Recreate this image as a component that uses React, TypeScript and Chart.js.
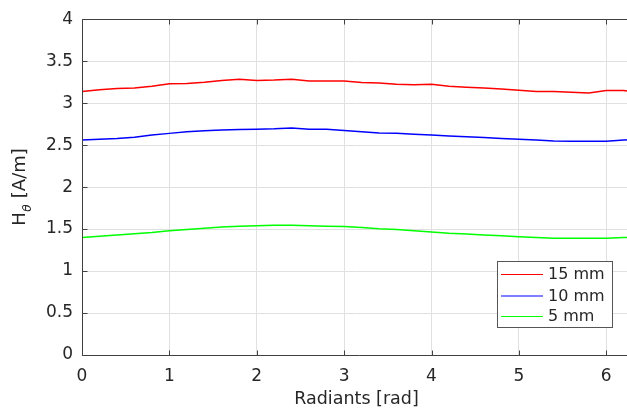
import React, { useEffect, useRef } from "react";
import { Chart, registerables } from "chart.js";

Chart.register(...registerables);

const radians = [0, 0.2, 0.4, 0.6, 0.8, 1.0, 1.2, 1.4, 1.6, 1.8, 2.0, 2.2, 2.4, 2.6, 2.8, 3.0, 3.2, 3.4, 3.6, 3.8, 4.0, 4.2, 4.4, 4.6, 4.8, 5.0, 5.2, 5.4, 5.6, 5.8, 6.0, 6.2, 6.283];
const h15 = [3.14, 3.16, 3.175, 3.18, 3.2, 3.23, 3.235, 3.25, 3.27, 3.285, 3.27, 3.275, 3.285, 3.265, 3.265, 3.265, 3.245, 3.24, 3.225, 3.22, 3.225, 3.2, 3.19, 3.18, 3.17, 3.155, 3.14, 3.14, 3.13, 3.12, 3.15, 3.15, 3.14];
const h10 = [2.56, 2.57, 2.58, 2.595, 2.62, 2.64, 2.66, 2.67, 2.68, 2.685, 2.69, 2.695, 2.705, 2.69, 2.69, 2.675, 2.66, 2.645, 2.64, 2.63, 2.62, 2.61, 2.6, 2.59, 2.58, 2.57, 2.56, 2.55, 2.545, 2.545, 2.545, 2.56, 2.565];
const h5 = [1.4, 1.415, 1.43, 1.445, 1.46, 1.48, 1.495, 1.51, 1.525, 1.535, 1.54, 1.545, 1.545, 1.54, 1.535, 1.53, 1.52, 1.505, 1.495, 1.48, 1.465, 1.45, 1.44, 1.43, 1.42, 1.41, 1.4, 1.39, 1.39, 1.39, 1.39, 1.4, 1.4];
const seriesLabels = ["15 mm", "10 mm", "5 mm"];
const seriesColors = ["#ff0000", "#0000ff", "#00ff00"];
const xTicks = [0, 1, 2, 3, 4, 5, 6];
const yTicks = [0, 0.5, 1, 1.5, 2, 2.5, 3, 3.5, 4];
const xTitle = "Radiants [rad]";
const xMax = 2 * Math.PI;

const FONT = "'DejaVu Sans', sans-serif";
const TEXT = "#262626";
const AXIS = "#404040";

const overlay = {
  id: "matlabOverlay",
  afterDraw(chart: any) {
    const ctx = chart.ctx;
    const a = chart.chartArea;
    const xs = chart.scales.x;
    const ys = chart.scales.y;
    ctx.save();
    ctx.strokeStyle = AXIS;
    ctx.lineWidth = 1;
    ctx.beginPath();
    const L = Math.round(a.left) + 0.5;
    const B = Math.round(a.bottom) + 0.5;
    const T = Math.round(a.top) + 0.5;
    ctx.moveTo(L, T);
    ctx.lineTo(L, B);
    ctx.lineTo(a.right + 5, B);
    ctx.moveTo(L, T);
    ctx.lineTo(a.right + 5, T);
    const tl = 5;
    xTicks.forEach((v) => {
      const px = Math.round(xs.getPixelForValue(v)) + 0.5;
      ctx.moveTo(px, B);
      ctx.lineTo(px, B - tl);
      ctx.moveTo(px, T);
      ctx.lineTo(px, T + tl);
    });
    yTicks.forEach((v) => {
      const py = Math.round(ys.getPixelForValue(v)) + 0.5;
      ctx.moveTo(L, py);
      ctx.lineTo(L + tl, py);
    });
    ctx.stroke();

    // y axis title with subscript theta
    ctx.save();
    ctx.translate(20.5, 187);
    ctx.rotate(-Math.PI / 2);
    ctx.fillStyle = TEXT;
    ctx.textBaseline = "middle";
    ctx.textAlign = "left";
    const mainFont = "18px " + FONT;
    const subFont = "italic 12px " + FONT;
    ctx.font = mainFont;
    const wH = ctx.measureText("H").width;
    const wRest = ctx.measureText(" [A/m]").width;
    ctx.font = subFont;
    const wSub = ctx.measureText("\u03b8").width;
    const total = wH + wSub + 1 + wRest;
    let x0 = -total / 2;
    ctx.font = mainFont;
    ctx.fillText("H", x0, 0);
    x0 += wH;
    ctx.font = subFont;
    ctx.fillText("\u03b8", x0 + 0.5, 7);
    x0 += wSub + 1;
    ctx.font = mainFont;
    ctx.fillText(" [A/m]", x0, 0);
    ctx.restore();

    // legend
    const bx = 497.5, by = 261.5, bw = 115, bh = 66;
    ctx.fillStyle = "#ffffff";
    ctx.fillRect(bx, by, bw, bh);
    ctx.strokeStyle = "#555555";
    ctx.lineWidth = 1;
    ctx.strokeRect(bx, by, bw, bh);
    ctx.font = "16px " + FONT;
    ctx.textBaseline = "middle";
    ctx.textAlign = "left";
    const rows = [274, 295.5, 316];
    chart.data.datasets.forEach((ds: any, i: number) => {
      const ry = rows[i];
      ctx.strokeStyle = ds.borderColor;
      ctx.lineWidth = 1.2;
      ctx.beginPath();
      ctx.moveTo(501, ry + 0.5);
      ctx.lineTo(543, ry + 0.5);
      ctx.stroke();
      ctx.fillStyle = TEXT;
      ctx.fillText(ds.label, 548, ry + 1);
    });
    ctx.restore();
  },
};

export default function App() {
  const ref = useRef<HTMLCanvasElement>(null);
  useEffect(() => {
    document.body.style.margin = "0";
    document.body.style.overflow = "hidden";
    const canvas = ref.current!;
    const sets = [h15, h10, h5];
    const chart = new Chart(canvas, {
      type: "line",
      data: {
        datasets: sets.map((s, i) => ({
          label: seriesLabels[i],
          data: radians.map((x, j) => ({ x, y: s[j] })),
          borderColor: seriesColors[i],
          backgroundColor: seriesColors[i],
          borderWidth: 1.5,
          pointRadius: 0,
          tension: 0,
          fill: false,
        })),
      },
      options: {
        responsive: false,
        animation: false,
        devicePixelRatio: 1,
        layout: { padding: { top: 18, right: 9, left: 0, bottom: 0 } },
        plugins: {
          legend: { display: false },
          tooltip: { enabled: false },
        },
        scales: {
          x: {
            type: "linear",
            min: 0,
            max: xMax,
            afterBuildTicks: (s: any) => {
              s.ticks = xTicks.map((v) => ({ value: v }));
            },
            afterFit: (s: any) => {
              s.height = 55;
            },
            grid: { color: "#e0e0e0", drawTicks: false, lineWidth: 1 },
            border: { display: false },
            ticks: {
              color: TEXT,
              font: { family: FONT, size: 17 },
              padding: 11,
              maxRotation: 0,
              callback: (v: any) => String(v),
            },
            title: {
              display: true,
              text: xTitle,
              color: TEXT,
              font: { family: FONT, size: 17.5 },
              padding: { top: 0, bottom: 0 },
            },
          },
          y: {
            type: "linear",
            min: 0,
            max: 4,
            afterBuildTicks: (s: any) => {
              s.ticks = yTicks.map((v) => ({ value: v }));
            },
            afterFit: (s: any) => {
              s.width = 82;
            },
            grid: { color: "#e0e0e0", drawTicks: false, lineWidth: 1 },
            border: { display: false },
            ticks: {
              color: TEXT,
              font: { family: FONT, size: 17 },
              padding: 9,
              callback: (v: any) => String(v),
            },
          },
        },
      },
      plugins: [overlay],
    });
    return () => chart.destroy();
  }, []);
  return (
    <div style={{ position: "absolute", left: 0, top: 0, width: 627, height: 410, overflow: "hidden", background: "#fff" }}>
      <canvas ref={ref} width={640} height={410} style={{ display: "block", width: 640, height: 410 }} />
    </div>
  );
}
